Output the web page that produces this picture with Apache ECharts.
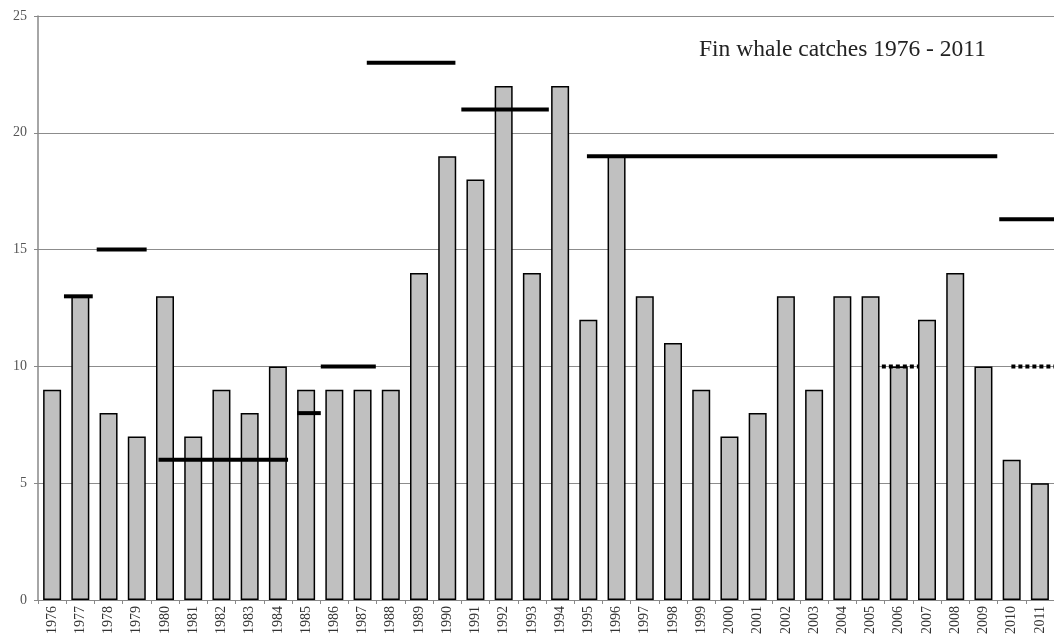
<!DOCTYPE html>
<html>
<head>
<meta charset="utf-8">
<script src="https://cdn.jsdelivr.net/npm/echarts@6/dist/echarts.min.js"></script>
<style>
  html, body { margin: 0; padding: 0; background: #fff; }
  #chart { width: 1054px; height: 641px; }
</style>
</head>
<body>
<div id="chart"></div>
<script>
// years on the x axis
var years = [];
for (var y = 1976; y <= 2011; y++) years.push(String(y));

// fin whale catches per year
var catches = [9, 13, 8, 7, 13, 7, 9, 8, 10, 9, 9, 9, 9, 14, 19, 18, 22, 14, 22,
               12, 19, 13, 11, 9, 7, 8, 13, 9, 13, 13, 10, 12, 14, 10, 6, 5];

// quota lines (solid): start year, end year (fractional, integer = bar centre), level
var quotaFrom  = [1976.42, 1977.58, 1979.77, 1984.68, 1985.52, 1987.15, 1990.5, 1994.95, 2009.56];
var quotaTo    = [1977.44, 1979.35, 1984.36, 1985.52, 1987.47, 1990.29, 1993.6, 2009.49, 2011.5];
var quotaLevel = [13, 15, 6, 8, 10, 23, 21, 19, 16.3];

// dotted lines
var dotFrom  = [2005.4, 2009.99];
var dotTo    = [2006.7, 2011.5];
var dotLevel = [10, 10];

var yTicks = [0, 5, 10, 15, 20, 25];

function segData(from, to, level) {
  return from.map(function (f, i) { return [f, to[i], level[i]]; });
}

function segRender(width, dash) {
  return function (params, api) {
    var p1 = api.coord([api.value(0), api.value(2)]);
    var p2 = api.coord([api.value(1), api.value(2)]);
    return {
      type: 'line',
      shape: { x1: p1[0], y1: p1[1], x2: p2[0], y2: p2[1] },
      style: { stroke: '#000', lineWidth: width, lineDash: dash, lineCap: 'butt' }
    };
  };
}

var chart = echarts.init(document.getElementById('chart'));
var font = '"Liberation Serif", "DejaVu Serif", serif';

chart.setOption({
  backgroundColor: '#fff',
  animation: false,
  grid: { left: 38, top: 16, bottom: 41, width: 1020 },
  graphic: [{
    type: 'text',
    left: 699, top: 38,
    style: { text: 'Fin whale catches 1976 - 2011', font: '23.5px ' + font, fill: '#222' }
  }],
  xAxis: [{
    type: 'category',
    data: years,
    axisLine: { lineStyle: { color: '#888', width: 1 } },
    axisTick: { show: true, length: 4, lineStyle: { color: '#888' } },
    axisLabel: { rotate: 90, fontFamily: font, fontSize: 14, color: '#333', margin: 6, interval: 0 }
  }, {
    type: 'value',
    min: 1975.5, max: 2011.5,
    show: false
  }],
  yAxis: {
    type: 'value',
    min: yTicks[0], max: yTicks[yTicks.length - 1], interval: 5,
    axisLine: { show: true, lineStyle: { color: '#888', width: 1.5 } },
    axisTick: { show: true, length: 4, lineStyle: { color: '#888' } },
    axisLabel: { fontFamily: font, fontSize: 14, color: '#555', margin: 11 },
    splitLine: { lineStyle: { color: '#8c8c8c', width: 1 } }
  },
  series: [{
    type: 'bar',
    data: catches,
    barWidth: 18,
    itemStyle: { color: '#c0c0c0', borderColor: '#000', borderWidth: 1.5 },
    z: 2
  }, {
    type: 'custom',
    xAxisIndex: 1,
    data: segData(quotaFrom, quotaTo, quotaLevel),
    encode: { x: [0, 1], y: 2 },
    renderItem: segRender(4, null),
    z: 5
  }, {
    type: 'custom',
    xAxisIndex: 1,
    data: segData(dotFrom, dotTo, dotLevel),
    encode: { x: [0, 1], y: 2 },
    renderItem: segRender(4, [4, 3]),
    z: 5
  }]
});
</script>
</body>
</html>
